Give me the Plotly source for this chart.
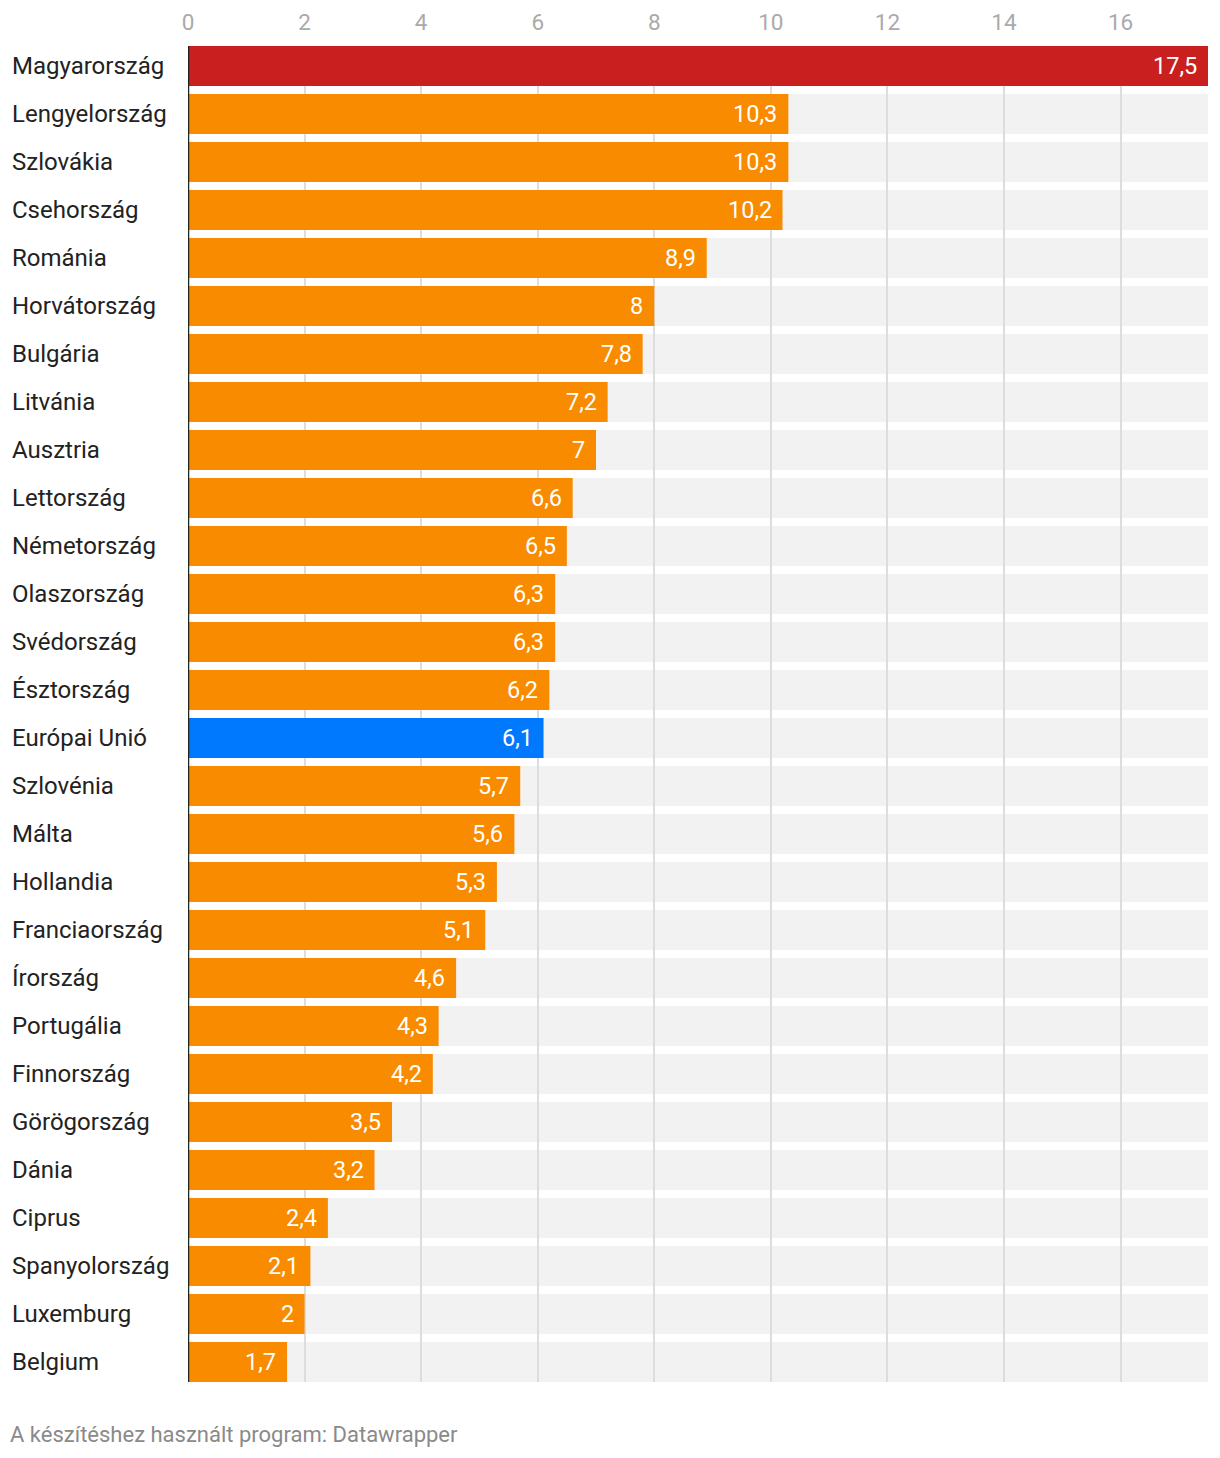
import plotly.graph_objects as go

countries = ["Magyarország", "Lengyelország", "Szlovákia", "Csehország", "Románia",
             "Horvátország", "Bulgária", "Litvánia", "Ausztria", "Lettország",
             "Németország", "Olaszország", "Svédország", "Észtország", "Európai Unió",
             "Szlovénia", "Málta", "Hollandia", "Franciaország", "Írország",
             "Portugália", "Finnország", "Görögország", "Dánia", "Ciprus",
             "Spanyolország", "Luxemburg", "Belgium"]
values = [17.5, 10.3, 10.3, 10.2, 8.9, 8, 7.8, 7.2, 7, 6.6, 6.5, 6.3, 6.3, 6.2, 6.1,
          5.7, 5.6, 5.3, 5.1, 4.6, 4.3, 4.2, 3.5, 3.2, 2.4, 2.1, 2, 1.7]
tick_vals = [0, 2, 4, 6, 8, 10, 12, 14, 16]
x_max = 17.5

RED = "#c91f1f"
ORANGE = "#f98b00"
BLUE = "#0079ff"
colors = [RED if c == "Magyarország" else BLUE if c == "Európai Unió" else ORANGE
          for c in countries]

def fmt(v):
    s = f"{v:g}"
    return s.replace(".", ",")

fig = go.Figure()
fig.add_trace(go.Bar(
    y=countries, x=values, orientation="h",
    marker=dict(color=colors, line=dict(width=0)),
    hoverinfo="skip",
))

half = 20 / 48
shapes = []
for i, c in enumerate(countries):
    shapes.append(dict(type="rect", xref="x", yref="y", x0=0, x1=x_max,
                       y0=i - half, y1=i + half, fillcolor="#f2f2f2",
                       line=dict(width=0), layer="below"))
shapes.append(dict(type="line", xref="x", yref="paper", x0=0, x1=0, y0=0, y1=1,
                   line=dict(color="#222222", width=2.5), layer="above"))

annotations = []
for i, (c, v) in enumerate(zip(countries, values)):
    annotations.append(dict(x=v, y=c, xref="x", yref="y", text=fmt(v),
                            xanchor="right", xshift=-9, showarrow=False,
                            font=dict(family="Roboto", size=23.5, color="white")))
    annotations.append(dict(x=-178 / 1020, y=c, xref="paper", yref="y", text=c,
                            xanchor="left", showarrow=False,
                            font=dict(family="Roboto", size=24, color="#222222")))
annotations.append(dict(x=-180 / 1020, y=-0.039, xref="paper", yref="paper",
                        text="A készítéshez használt program: Datawrapper",
                        xanchor="left", yanchor="middle", showarrow=False,
                        font=dict(family="Roboto", size=22, color="#8a8a8a")))

fig.update_layout(
    width=1220, height=1458,
    margin=dict(l=188, r=12, t=46, b=76, autoexpand=False),
    paper_bgcolor="white", plot_bgcolor="white",
    bargap=1 - 2 * half,
    showlegend=False,
    shapes=shapes,
    annotations=annotations,
    separators=", ",
    font=dict(family="Roboto"),
)
fig.update_xaxes(
    range=[0, x_max], side="top", tickvals=tick_vals,
    showgrid=True, gridcolor="#dddddd", gridwidth=1.5,
    zeroline=False, showline=False, ticks="",
    tickfont=dict(family="Roboto", size=22.5, color="#aaaaaa"),
    ticklabelstandoff=11, automargin=False,
)
fig.update_yaxes(
    range=[len(countries) - 1 + half, -half], showticklabels=False, showgrid=False,
    zeroline=False, showline=False, ticks="", automargin=False,
)

fig.write_html("out.html", config={"displayModeBar": False},
               post_script="document.body.style.margin='0';")
